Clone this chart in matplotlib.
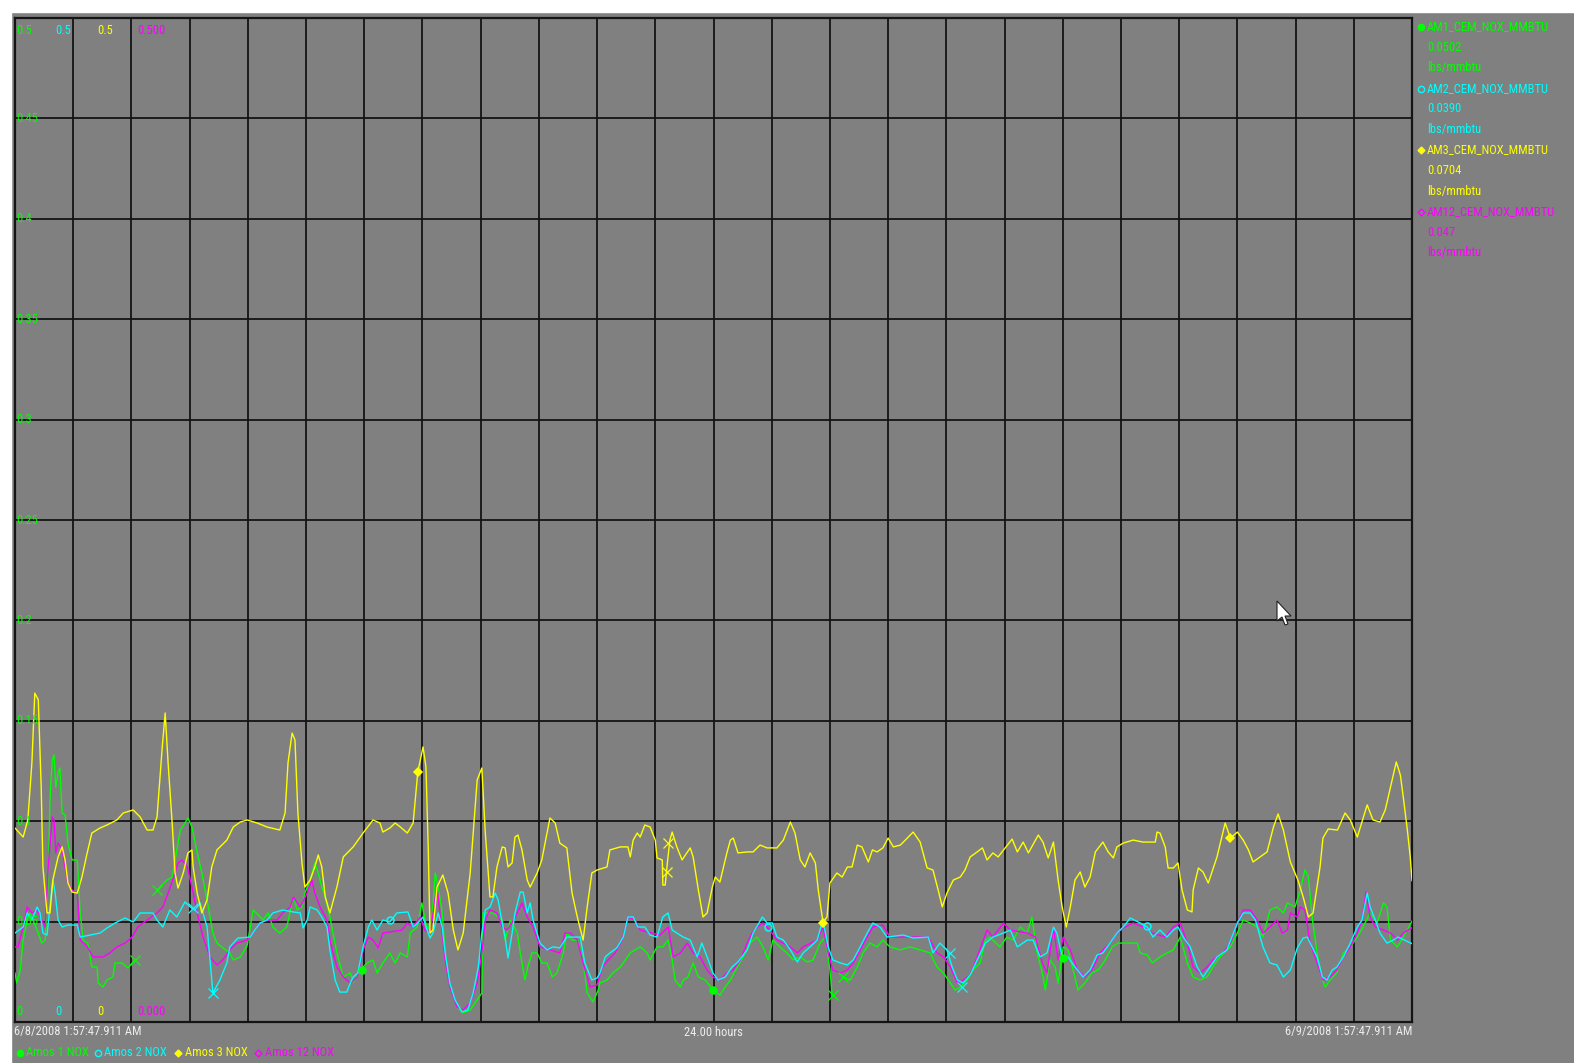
import numpy as np
import matplotlib

matplotlib.use("Agg")
import matplotlib.pyplot as plt
from matplotlib import font_manager as fm
from matplotlib.lines import Line2D
from matplotlib.patches import Polygon, Rectangle
from matplotlib.textpath import TextPath

W, H = 1574, 1063
BG = "#808080"
GRID = "#141414"
GREEN, CYAN, YELLOW, MAGENTA = "#00ff00", "#00ffff", "#ffff00", "#ff00ff"
TIME_COLOR = "#ececec"
nan = float("nan")

# (hours since 6/8/2008 1:57:47 AM, lbs/mmbtu)
AM1_NOX = [
    (0.00, 0.0244), (0.03, 0.0194), (0.09, 0.0259), (0.14, 0.0408), (0.21, 0.0508), (0.26, 0.0543),
    (0.31, 0.0508), (0.40, 0.0443), (0.46, 0.0393), (0.52, 0.0408), (0.57, 0.0707), (0.60, 0.1106),
    (0.64, 0.1305), (0.67, 0.1330), (0.70, 0.1170), (0.74, 0.1240), (0.77, 0.1265), (0.81, 0.1041),
    (0.86, 0.1031), (0.91, 0.0891), (0.98, 0.0807), (1.07, 0.0807), (1.12, 0.0543), (1.17, 0.0408),
    (1.25, 0.0393), (1.32, 0.0274), (1.41, 0.0274), (1.43, 0.0194), (1.51, 0.0174), (1.58, 0.0209),
    (1.68, 0.0224), (1.72, 0.0294), (1.84, 0.0294), (1.94, 0.0269), (2.06, 0.0309), (2.25, nan),
    (2.44, 0.0657), (2.49, 0.0672), (2.61, 0.0707), (2.70, 0.0722), (2.75, 0.0807), (2.84, 0.0956),
    (2.92, 0.0991), (2.97, 0.1016), (3.04, 0.0971), (3.13, 0.0842), (3.21, 0.0742), (3.32, 0.0573),
    (3.40, 0.0443), (3.47, 0.0393), (3.57, 0.0369), (3.69, 0.0344), (3.75, 0.0309), (3.87, 0.0324),
    (3.99, 0.0383), (4.09, 0.0558), (4.18, 0.0533), (4.26, 0.0508), (4.35, 0.0543), (4.43, 0.0473),
    (4.55, 0.0443), (4.67, 0.0473), (4.78, 0.0623), (4.85, 0.0558), (4.93, 0.0573), (4.98, 0.0642),
    (5.07, 0.0707), (5.15, 0.0792), (5.21, 0.0742), (5.27, 0.0672), (5.33, 0.0623), (5.41, 0.0523),
    (5.53, 0.0344), (5.64, 0.0224), (5.76, 0.0244), (5.81, 0.0199), (5.93, 0.0259), (6.05, 0.0294),
    (6.15, 0.0309), (6.22, 0.0244), (6.32, 0.0294), (6.44, 0.0344), (6.53, 0.0294), (6.62, 0.0344),
    (6.74, 0.0324), (6.79, 0.0443), (6.91, 0.0473), (6.99, 0.0593), (7.08, 0.0458), (7.16, 0.0508),
    (7.22, 0.0742), (7.27, 0.0672), (7.34, 0.0543), (7.39, 0.0344), (7.47, 0.0174), (7.59, 0.0075),
    (7.70, 0.0045), (7.82, 0.0060), (7.94, 0.0110), (8.02, 0.0144), (8.04, 0.0543), (8.21, 0.0543),
    (8.37, 0.0508), (8.42, 0.0408), (8.51, 0.0508), (8.63, 0.0443), (8.68, 0.0344), (8.76, 0.0209),
    (8.81, 0.0274), (8.88, 0.0344), (8.97, 0.0344), (9.05, 0.0294), (9.14, 0.0294), (9.23, 0.0224),
    (9.31, 0.0244), (9.42, 0.0344), (9.48, 0.0443), (9.57, 0.0408), (9.67, 0.0408), (9.76, 0.0309),
    (9.83, 0.0144), (9.93, 0.0100), (10.02, 0.0159), (10.05, 0.0194), (10.17, 0.0209), (10.27, 0.0244),
    (10.40, 0.0274), (10.57, 0.0344), (10.74, 0.0374), (10.86, 0.0344), (10.91, 0.0309), (11.03, 0.0374),
    (11.13, 0.0374), (11.22, 0.0408), (11.29, 0.0309), (11.34, 0.0209), (11.43, 0.0174), (11.48, 0.0209),
    (11.56, 0.0224), (11.65, 0.0294), (11.74, 0.0224), (11.86, 0.0209), (11.99, 0.0159), (12.11, 0.0134),
    (12.20, 0.0174), (12.29, 0.0209), (12.41, 0.0274), (12.51, 0.0324), (12.63, 0.0393), (12.75, 0.0423),
    (12.85, 0.0374), (12.94, 0.0309), (13.02, 0.0408), (13.14, 0.0374), (13.26, 0.0344), (13.37, 0.0309),
    (13.49, 0.0324), (13.61, 0.0299), (13.71, 0.0309), (13.83, 0.0393), (13.92, 0.0423), (14.00, 0.0259),
    (14.04, 0.0134), (14.13, nan),
    (14.23, 0.0224), (14.35, 0.0209), (14.47, 0.0274), (14.57, 0.0344), (14.69, 0.0393), (14.81, 0.0374),
    (14.91, 0.0408), (15.03, 0.0374), (15.21, 0.0359), (15.38, 0.0374), (15.55, 0.0359), (15.72, 0.0344),
    (15.84, 0.0274), (15.95, 0.0244), (16.07, 0.0194), (16.15, 0.0159), (16.24, 0.0174), (16.36, 0.0209),
    (16.46, 0.0259), (16.58, 0.0294), (16.67, 0.0408), (16.75, 0.0423), (16.92, 0.0374), (17.04, 0.0423),
    (17.15, 0.0408), (17.27, 0.0473), (17.39, 0.0443), (17.47, 0.0523), (17.56, 0.0344), (17.65, 0.0244),
    (17.70, 0.0159), (17.78, 0.0309), (17.87, 0.0274), (17.92, 0.0194), (18.01, 0.0374), (18.09, 0.0359),
    (18.18, 0.0259), (18.26, 0.0159), (18.38, 0.0194), (18.50, 0.0244), (18.61, 0.0259), (18.73, 0.0309),
    (18.85, 0.0374), (18.95, 0.0393), (19.28, 0.0393), (19.33, 0.0344), (19.45, 0.0334), (19.54, 0.0294),
    (19.67, 0.0324), (19.79, 0.0344), (19.90, 0.0359), (20.02, 0.0423), (20.14, 0.0294), (20.24, 0.0224),
    (20.36, 0.0209), (20.48, 0.0224), (20.58, 0.0274), (20.70, 0.0324), (20.88, 0.0374), (21.00, 0.0443),
    (21.10, 0.0508), (21.22, 0.0493), (21.34, 0.0473), (21.44, 0.0423), (21.56, 0.0558), (21.68, 0.0573),
    (21.79, 0.0543), (21.86, 0.0593), (21.99, 0.0573), (22.08, 0.0657), (22.16, 0.0757), (22.22, 0.0722),
    (22.29, 0.0508), (22.37, 0.0344), (22.46, 0.0209), (22.51, 0.0174), (22.59, 0.0209), (22.71, 0.0244),
    (22.82, 0.0344), (22.94, 0.0374), (23.06, 0.0423), (23.16, 0.0473), (23.28, 0.0543), (23.40, 0.0493),
    (23.51, 0.0593), (23.57, 0.0573), (23.63, 0.0408), (23.75, 0.0374), (23.85, 0.0423), (24.00, 0.0502),
]

AM2_NOX = [
    (0.00, 0.0443), (0.14, 0.0473), (0.21, 0.0543), (0.29, 0.0508), (0.38, 0.0573), (0.43, 0.0543),
    (0.48, 0.0443), (0.55, 0.0433), (0.60, 0.0573), (0.65, 0.0707), (0.69, 0.0642), (0.74, 0.0508),
    (0.81, 0.0473), (0.91, 0.0483), (1.07, 0.0483), (1.12, 0.0423), (1.29, 0.0433), (1.46, 0.0443),
    (1.58, 0.0468), (1.72, 0.0493), (1.89, 0.0518), (2.03, 0.0498), (2.15, 0.0543), (2.37, 0.0543),
    (2.44, 0.0508), (2.54, 0.0473), (2.66, 0.0558), (2.78, 0.0523), (2.92, 0.0598), (3.01, 0.0573),
    (3.09, 0.0558), (3.18, 0.0593), (3.23, 0.0543), (3.30, 0.0473), (3.40, 0.0144), (3.52, 0.0209),
    (3.64, 0.0294), (3.69, 0.0374), (3.83, 0.0418), (4.04, 0.0423), (4.12, 0.0458), (4.21, 0.0493),
    (4.33, 0.0508), (4.43, 0.0543), (4.60, 0.0558), (4.78, 0.0548), (4.90, 0.0543), (4.95, 0.0468),
    (5.02, 0.0508), (5.07, 0.0573), (5.19, 0.0558), (5.27, 0.0523), (5.36, 0.0473), (5.41, 0.0359),
    (5.50, 0.0209), (5.58, 0.0149), (5.70, 0.0149), (5.76, 0.0194), (5.81, 0.0224), (5.89, 0.0244),
    (5.98, 0.0374), (6.07, 0.0473), (6.13, 0.0508), (6.22, 0.0458), (6.32, 0.0508), (6.44, 0.0498),
    (6.56, 0.0543), (6.75, 0.0548), (6.84, 0.0473), (6.92, 0.0493), (7.01, 0.0523), (7.08, 0.0458),
    (7.13, 0.0418), (7.18, 0.0443), (7.27, 0.0543), (7.34, 0.0473), (7.39, 0.0344), (7.47, 0.0194),
    (7.56, 0.0110), (7.68, 0.0050), (7.78, 0.0060), (7.87, 0.0144), (7.96, 0.0274), (8.02, 0.0443),
    (8.08, 0.0558), (8.16, 0.0573), (8.25, 0.0642), (8.30, 0.0608), (8.37, 0.0493), (8.42, 0.0423),
    (8.47, 0.0319), (8.54, 0.0443), (8.59, 0.0543), (8.68, 0.0647), (8.73, 0.0647), (8.80, 0.0543),
    (8.85, 0.0593), (8.90, 0.0508), (9.02, 0.0393), (9.14, 0.0359), (9.24, 0.0374), (9.36, 0.0369),
    (9.48, 0.0423), (9.71, 0.0423), (9.79, 0.0294), (9.91, 0.0209), (10.00, 0.0219), (10.05, 0.0244),
    (10.14, 0.0324), (10.22, 0.0344), (10.34, 0.0369), (10.45, 0.0423), (10.53, 0.0523), (10.62, 0.0523),
    (10.70, 0.0473), (10.82, 0.0473), (10.91, 0.0433), (11.03, 0.0423), (11.13, 0.0523), (11.22, 0.0543),
    (11.29, 0.0458), (11.37, 0.0443), (11.48, 0.0423), (11.60, 0.0408), (11.72, 0.0324), (11.80, 0.0393),
    (11.89, 0.0324), (11.99, 0.0244), (12.08, 0.0209), (12.20, 0.0224), (12.32, 0.0274), (12.42, 0.0299),
    (12.58, 0.0359), (12.68, 0.0443), (12.84, 0.0523), (12.92, 0.0493), (13.01, 0.0493), (13.09, 0.0423),
    (13.20, 0.0408), (13.32, 0.0359), (13.44, 0.0299), (13.54, 0.0344), (13.66, 0.0374), (13.78, 0.0408),
    (13.88, 0.0508), (13.97, 0.0374), (14.05, 0.0309), (14.18, 0.0294), (14.30, 0.0284), (14.40, 0.0309),
    (14.52, 0.0374), (14.64, 0.0443), (14.74, 0.0493), (14.86, 0.0473), (14.98, 0.0423), (15.26, 0.0433),
    (15.43, 0.0418), (15.69, 0.0423), (15.77, 0.0344), (15.89, 0.0393), (16.01, 0.0359), (16.10, 0.0274),
    (16.19, 0.0209), (16.29, 0.0194), (16.41, 0.0234), (16.53, 0.0309), (16.67, 0.0393), (16.80, 0.0423),
    (16.98, 0.0443), (17.10, 0.0458), (17.22, 0.0374), (17.39, 0.0408), (17.49, 0.0408), (17.61, 0.0324),
    (17.73, 0.0344), (17.84, 0.0473), (17.90, 0.0443), (17.99, 0.0324), (18.09, 0.0324), (18.21, 0.0274),
    (18.35, 0.0224), (18.47, 0.0259), (18.59, 0.0334), (18.69, 0.0344), (18.81, 0.0393), (18.93, 0.0443),
    (19.04, 0.0473), (19.16, 0.0518), (19.33, 0.0493), (19.45, 0.0473), (19.55, 0.0423), (19.67, 0.0458),
    (19.79, 0.0423), (19.90, 0.0458), (19.98, 0.0473), (20.07, 0.0423), (20.19, 0.0374), (20.31, 0.0274),
    (20.41, 0.0224), (20.53, 0.0274), (20.65, 0.0324), (20.82, 0.0359), (21.00, 0.0493), (21.10, 0.0543),
    (21.22, 0.0543), (21.31, 0.0508), (21.44, 0.0374), (21.56, 0.0294), (21.68, 0.0284), (21.79, 0.0224),
    (21.91, 0.0259), (22.03, 0.0369), (22.13, 0.0418), (22.20, 0.0423), (22.25, 0.0393), (22.37, 0.0324),
    (22.46, 0.0224), (22.54, 0.0209), (22.63, 0.0259), (22.71, 0.0274), (22.82, 0.0324), (22.94, 0.0393),
    (23.06, 0.0473), (23.14, 0.0508), (23.23, 0.0642), (23.28, 0.0573), (23.37, 0.0508), (23.45, 0.0443),
    (23.57, 0.0393), (23.68, 0.0408), (23.76, 0.0423), (24.00, 0.0390),
]

AM3_NOX = [
    (0.00, 0.0966), (0.14, 0.0921), (0.22, 0.1006), (0.29, 0.1290), (0.34, 0.1638), (0.40, 0.1604),
    (0.45, 0.1170), (0.48, 0.0772), (0.55, 0.0543), (0.60, 0.0543), (0.65, 0.0707), (0.74, 0.0822),
    (0.81, 0.0872), (0.86, 0.0807), (0.91, 0.0692), (0.98, 0.0647), (1.07, 0.0642), (1.15, 0.0722),
    (1.24, 0.0842), (1.32, 0.0941), (1.46, 0.0966), (1.58, 0.0981), (1.75, 0.1006), (1.86, 0.1041),
    (2.03, 0.1056), (2.15, 0.1021), (2.27, 0.0956), (2.37, 0.0956), (2.44, 0.1021), (2.53, 0.1370),
    (2.58, 0.1539), (2.63, 0.1290), (2.70, 0.0991), (2.75, 0.0742), (2.80, 0.0667), (2.89, 0.0742),
    (2.97, 0.0842), (3.04, 0.0857), (3.06, 0.0772), (3.13, 0.0642), (3.21, 0.0543), (3.30, 0.0608),
    (3.38, 0.0772), (3.47, 0.0857), (3.64, 0.0906), (3.75, 0.0971), (3.87, 0.0996), (3.99, 0.1006),
    (4.16, 0.0991), (4.33, 0.0971), (4.55, 0.0956), (4.64, 0.1041), (4.69, 0.1290), (4.76, 0.1439),
    (4.81, 0.1404), (4.86, 0.1041), (4.93, 0.0792), (4.98, 0.0672), (5.07, 0.0707), (5.15, 0.0772),
    (5.21, 0.0832), (5.27, 0.0772), (5.33, 0.0623), (5.41, 0.0543), (5.53, 0.0672), (5.64, 0.0822),
    (5.81, 0.0872), (5.98, 0.0941), (6.15, 0.1006), (6.27, 0.0991), (6.32, 0.0946), (6.44, 0.0966),
    (6.53, 0.0991), (6.62, 0.0971), (6.74, 0.0941), (6.84, 0.0991), (6.92, 0.1245), (7.01, 0.1370),
    (7.06, 0.1270), (7.10, 0.0857), (7.13, 0.0443), (7.18, 0.0458), (7.25, 0.0672), (7.35, 0.0732),
    (7.44, 0.0642), (7.53, 0.0458), (7.61, 0.0359), (7.70, 0.0443), (7.82, 0.0742), (7.94, 0.1205),
    (8.02, 0.1265), (8.08, 0.0941), (8.16, 0.0623), (8.21, 0.0623), (8.28, 0.0772), (8.37, 0.0872),
    (8.42, 0.0867), (8.47, 0.0772), (8.54, 0.0792), (8.59, 0.0921), (8.64, 0.0931), (8.71, 0.0857),
    (8.80, 0.0707), (8.85, 0.0672), (8.97, 0.0742), (9.05, 0.0807), (9.19, 0.1016), (9.28, 0.0991),
    (9.36, 0.0891), (9.48, 0.0867), (9.57, 0.0642), (9.66, 0.0523), (9.76, 0.0408), (9.83, 0.0573),
    (9.91, 0.0742), (10.00, 0.0757), (10.17, 0.0772), (10.22, 0.0857), (10.40, 0.0872), (10.53, 0.0872),
    (10.57, 0.0822), (10.62, 0.0906), (10.69, 0.0941), (10.74, 0.0921), (10.82, 0.0981), (10.91, 0.0971),
    (11.00, 0.0906), (11.03, 0.0817), (11.12, 0.0807), (11.13, 0.0682), (11.17, 0.0682), (11.20, 0.0772),
    (11.25, 0.0906), (11.29, 0.0946), (11.37, 0.0872), (11.46, 0.0807), (11.60, 0.0867), (11.65, 0.0822),
    (11.74, 0.0657), (11.82, 0.0523), (11.89, 0.0543), (11.98, 0.0672), (12.03, 0.0722), (12.11, 0.0697),
    (12.23, 0.0842), (12.29, 0.0906), (12.34, 0.0916), (12.42, 0.0842), (12.58, 0.0847), (12.68, 0.0847),
    (12.80, 0.0881), (12.92, 0.0867), (13.09, 0.0867), (13.20, 0.0906), (13.32, 0.0996), (13.40, 0.0941),
    (13.49, 0.0807), (13.57, 0.0772), (13.66, 0.0842), (13.75, 0.0792), (13.80, 0.0657), (13.88, 0.0498),
    (13.95, 0.0523), (14.00, 0.0692), (14.12, 0.0742), (14.21, 0.0722), (14.30, 0.0772), (14.38, 0.0772),
    (14.47, 0.0881), (14.55, 0.0872), (14.66, 0.0797), (14.73, 0.0857), (14.81, 0.0847), (14.91, 0.0867),
    (15.00, 0.0916), (15.09, 0.0872), (15.21, 0.0881), (15.33, 0.0916), (15.43, 0.0946), (15.55, 0.0896),
    (15.67, 0.0767), (15.77, 0.0757), (15.86, 0.0657), (15.93, 0.0573), (16.01, 0.0642), (16.12, 0.0707),
    (16.24, 0.0722), (16.32, 0.0757), (16.41, 0.0822), (16.53, 0.0847), (16.62, 0.0867), (16.70, 0.0807),
    (16.80, 0.0842), (16.89, 0.0822), (17.13, 0.0911), (17.22, 0.0847), (17.32, 0.0896), (17.41, 0.0842),
    (17.58, 0.0931), (17.66, 0.0896), (17.75, 0.0817), (17.84, 0.0896), (17.92, 0.0707), (17.99, 0.0573),
    (18.06, 0.0473), (18.13, 0.0573), (18.21, 0.0707), (18.30, 0.0747), (18.38, 0.0672), (18.47, 0.0722),
    (18.56, 0.0847), (18.69, 0.0896), (18.78, 0.0847), (18.87, 0.0817), (18.93, 0.0872), (19.04, 0.0891),
    (19.21, 0.0906), (19.38, 0.0896), (19.59, 0.0896), (19.62, 0.0946), (19.67, 0.0941), (19.76, 0.0872),
    (19.81, 0.0767), (19.90, 0.0767), (19.98, 0.0792), (20.05, 0.0657), (20.14, 0.0558), (20.22, 0.0548),
    (20.24, 0.0657), (20.33, 0.0767), (20.41, 0.0747), (20.50, 0.0692), (20.65, 0.0822), (20.79, 0.0991),
    (20.88, 0.0916), (21.00, 0.0946), (21.10, 0.0906), (21.19, 0.0857), (21.27, 0.0797), (21.39, 0.0822),
    (21.51, 0.0847), (21.62, 0.0971), (21.70, 0.1036), (21.79, 0.0956), (21.91, 0.0797), (22.04, 0.0707),
    (22.13, 0.0623), (22.22, 0.0523), (22.30, 0.0543), (22.42, 0.0772), (22.47, 0.0916), (22.56, 0.0961),
    (22.72, 0.0956), (22.85, 0.1041), (22.94, 0.1006), (23.06, 0.0921), (23.14, 0.0996), (23.23, 0.1081),
    (23.33, 0.1006), (23.45, 0.0996), (23.54, 0.1056), (23.63, 0.1170), (23.73, 0.1295), (23.80, 0.1230),
    (23.85, 0.1120), (23.92, 0.0956), (23.97, 0.0822), (24.00, 0.0704),
]

AM12_NOX = [
    (0.00, 0.0374), (0.05, 0.0374), (0.14, 0.0473), (0.21, 0.0573), (0.29, 0.0543), (0.38, 0.0558),
    (0.46, 0.0508), (0.52, 0.0473), (0.57, 0.0772), (0.64, 0.1021), (0.67, 0.1006), (0.70, 0.0842),
    (0.74, 0.0891), (0.81, 0.0857), (0.86, 0.0772), (0.91, 0.0692), (0.98, 0.0657), (1.07, 0.0642),
    (1.12, 0.0408), (1.24, 0.0374), (1.34, 0.0324), (1.51, 0.0324), (1.63, 0.0344), (1.75, 0.0374),
    (1.89, 0.0393), (2.01, 0.0423), (2.11, 0.0473), (2.27, 0.0508), (2.44, 0.0543), (2.54, 0.0573),
    (2.63, 0.0642), (2.71, 0.0707), (2.80, 0.0792), (2.87, 0.0807), (2.96, 0.0772), (3.04, 0.0672),
    (3.13, 0.0543), (3.23, 0.0423), (3.35, 0.0324), (3.47, 0.0284), (3.57, 0.0309), (3.69, 0.0359),
    (3.81, 0.0393), (3.99, 0.0408), (4.09, 0.0443), (4.21, 0.0493), (4.33, 0.0508), (4.50, 0.0508),
    (4.60, 0.0543), (4.73, 0.0573), (4.78, 0.0623), (4.90, 0.0573), (5.02, 0.0642), (5.10, 0.0707),
    (5.15, 0.0642), (5.24, 0.0573), (5.36, 0.0508), (5.41, 0.0408), (5.53, 0.0274), (5.64, 0.0224),
    (5.76, 0.0194), (5.88, 0.0224), (5.98, 0.0359), (6.07, 0.0423), (6.15, 0.0408), (6.24, 0.0369),
    (6.32, 0.0443), (6.65, 0.0458), (6.74, 0.0493), (6.84, 0.0473), (6.96, 0.0523), (7.04, 0.0458),
    (7.13, 0.0443), (7.25, 0.0672), (7.30, 0.0543), (7.39, 0.0309), (7.47, 0.0174), (7.59, 0.0075),
    (7.70, 0.0060), (7.82, 0.0095), (7.94, 0.0194), (8.02, 0.0344), (8.08, 0.0508), (8.16, 0.0558),
    (8.28, 0.0543), (8.37, 0.0473), (8.45, 0.0458), (8.54, 0.0493), (8.63, 0.0543), (8.71, 0.0593),
    (8.80, 0.0523), (8.90, 0.0473), (9.02, 0.0374), (9.36, 0.0344), (9.45, 0.0443), (9.54, 0.0443),
    (9.66, 0.0408), (9.76, 0.0294), (9.88, 0.0174), (10.00, 0.0184), (10.09, 0.0274), (10.19, 0.0309),
    (10.31, 0.0344), (10.43, 0.0408), (10.53, 0.0523), (10.65, 0.0508), (10.74, 0.0458), (11.08, 0.0433),
    (11.22, 0.0473), (11.31, 0.0324), (11.43, 0.0344), (11.55, 0.0393), (11.65, 0.0344), (11.77, 0.0324),
    (11.89, 0.0259), (11.99, 0.0224), (12.11, 0.0209), (12.23, 0.0244), (12.34, 0.0259), (12.46, 0.0309),
    (12.58, 0.0393), (12.66, 0.0443), (12.75, 0.0473), (12.85, 0.0493), (12.97, 0.0458), (13.09, 0.0408),
    (13.32, 0.0374), (13.44, 0.0344), (13.54, 0.0374), (13.78, 0.0408), (13.88, 0.0473), (13.97, 0.0344),
    (14.05, 0.0259), (14.18, 0.0244), (14.30, 0.0259), (14.40, 0.0294), (14.52, 0.0359), (14.64, 0.0423),
    (14.74, 0.0473), (14.91, 0.0483), (15.03, 0.0423), (15.69, 0.0423), (15.84, 0.0344), (15.95, 0.0324),
    (16.07, 0.0274), (16.19, 0.0194), (16.29, 0.0209), (16.41, 0.0234), (16.53, 0.0324), (16.70, 0.0458),
    (16.80, 0.0423), (16.98, 0.0493), (17.10, 0.0458), (17.39, 0.0443), (17.53, 0.0423), (17.65, 0.0294),
    (17.73, 0.0244), (17.84, 0.0473), (17.92, 0.0309), (18.01, 0.0423), (18.13, 0.0359), (18.25, 0.0259),
    (18.38, 0.0224), (18.50, 0.0259), (18.64, 0.0344), (18.81, 0.0393), (18.93, 0.0443), (19.04, 0.0468),
    (19.21, 0.0493), (19.38, 0.0473), (19.54, 0.0443), (19.76, 0.0423), (19.90, 0.0473), (20.02, 0.0493),
    (20.14, 0.0393), (20.24, 0.0274), (20.36, 0.0244), (20.48, 0.0274), (20.58, 0.0309), (20.75, 0.0344),
    (20.88, 0.0393), (21.00, 0.0493), (21.10, 0.0558), (21.22, 0.0558), (21.34, 0.0508), (21.44, 0.0443),
    (21.56, 0.0473), (21.68, 0.0508), (21.77, 0.0443), (21.86, 0.0458), (21.91, 0.0543), (22.03, 0.0523),
    (22.08, 0.0573), (22.16, 0.0558), (22.25, 0.0393), (22.37, 0.0294), (22.47, 0.0209), (22.59, 0.0224),
    (22.71, 0.0259), (22.82, 0.0324), (22.94, 0.0374), (23.06, 0.0443), (23.14, 0.0508), (23.21, 0.0647),
    (23.28, 0.0523), (23.37, 0.0473), (23.51, 0.0458), (23.63, 0.0443), (23.75, 0.0408), (23.85, 0.0443),
    (24.00, 0.0470),
]

# point markers the trend display drops on each trace
AM1_DOTS = [(5.96, 0.0259), (11.99, 0.0159), (18.01, 0.0319)]
AM1_GAPS = [(2.06, 0.0309), (2.44, 0.0657), (14.05, 0.0134), (14.23, 0.0224)]
AM2_DOTS = [(6.44, 0.0508), (12.94, 0.0473), (19.45, 0.0478)]
AM2_GAPS = [(3.06, 0.0568), (3.40, 0.0144), (16.07, 0.0344), (16.27, 0.0174)]
AM3_DOTS = [(6.92, 0.1245), (13.88, 0.0493), (20.88, 0.0916)]
AM3_GAPS = [(11.22, 0.0891), (11.20, 0.0747)]

Y_GRID = [0.0, 0.05, 0.1, 0.15, 0.2, 0.25, 0.3, 0.35, 0.4, 0.45, 0.5]
TAG_NAMES = ["AM1_CEM_NOX_MMBTU", "AM2_CEM_NOX_MMBTU", "AM3_CEM_NOX_MMBTU", "AM12_CEM_NOX_MMBTU"]
TAG_VALUES = ["0.0502", "0.0390", "0.0704", "0.047"]
TAG_UNITS = "lbs/mmbtu"
TRACE_NAMES = ["Amos 1 NOX", "Amos 2 NOX", "Amos 3 NOX", "Amos 12 NOX"]
SCALE_TOP = ["0.5", "0.5", "0.5", "0.500"]
SCALE_BOTTOM = ["0", "0", "0", "0.000"]
START_TIME = "6/8/2008 1:57:47.911 AM"
END_TIME = "6/9/2008 1:57:47.911 AM"
SPAN = "24.00 hours"

COLORS = [GREEN, CYAN, YELLOW, MAGENTA]
SYMBOLS = [("o", True), ("o", False), ("D", True), ("D", False)]


def pick_font():
    # the trend display uses a narrow sans; take the closest installed one
    ttf = fm.fontManager.ttflist

    def plain(f):
        low = f.fname.lower()
        return f.style == "normal" and f.weight in (400, "normal", "regular", "book") \
            and "bold" not in low and "italic" not in low and "light" not in low

    for name in ["Liberation Sans Narrow", "Arial Narrow", "Roboto Condensed",
                 "DejaVu Sans Condensed", "Noto Sans Condensed", "Open Sans Condensed"]:
        for f in ttf:
            if f.name == name and plain(f):
                return f.fname
    for f in ttf:
        st = str(f.stretch).lower()
        if plain(f) and ("narrow" in f.name.lower() or "condensed" in f.name.lower()
                         or st in ("condensed", "semi-condensed")) \
                and "extra" not in f.fname.lower() and "ultra" not in f.fname.lower():
            return f.fname
    for f in ttf:
        if f.name == "Liberation Sans" and plain(f):
            return f.fname
    return None


fpath = pick_font()
base = fm.FontProperties(fname=fpath) if fpath else fm.FontProperties(family="DejaVu Sans")
# size so the time caption spans ~126 px like the reference, capped by glyph height
w100 = TextPath((0, 0), START_TIME, size=100, prop=base).get_extents().width
FS = min(10.0, 126 * 72 / 100 / (w100 / 100))
FONT = base.copy()
FONT.set_size(FS)


def fx(x):
    return x / W


def fy(y):
    return 1 - y / H


fig = plt.figure(figsize=(W / 100, H / 100), dpi=100, facecolor=BG)
fig.patches.append(Rectangle((0, fy(12)), 1, 12 / H, transform=fig.transFigure,
                             color="white", zorder=0))
fig.patches.append(Rectangle((0, 0), fx(11), 1, transform=fig.transFigure,
                             color="white", zorder=0))

ax = fig.add_axes([fx(15), 41 / H, 1397 / W, 1004 / H])
ax.set_facecolor(BG)
ax.set_xlim(0, 24)
ax.set_ylim(0, 0.5)
ax.set_xticks(np.arange(0, 25))
ax.set_yticks(Y_GRID)
ax.grid(True, color=GRID, lw=1.3)
ax.set_axisbelow(True)
ax.tick_params(length=0, labelbottom=False, labelleft=False)
for sp in ax.spines.values():
    sp.set_color(GRID)
    sp.set_linewidth(1.6)

for data, color in [(AM1_NOX, GREEN), (AM12_NOX, MAGENTA), (AM2_NOX, CYAN), (AM3_NOX, YELLOW)]:
    h, v = np.array(data).T
    ax.plot(h, v, color=color, lw=1.0, zorder=3)

for pts, color, mk, filled in [(AM1_DOTS, GREEN, "o", True), (AM2_DOTS, CYAN, "o", False),
                               (AM3_DOTS, YELLOW, "D", True)]:
    h, v = np.array(pts).T
    ax.plot(h, v, ls="none", marker=mk, ms=5 if mk == "o" else 4, mew=1.1, color=color,
            mfc=color if filled else "none", zorder=4)
for pts, color in [(AM1_GAPS, GREEN), (AM2_GAPS, CYAN), (AM3_GAPS, YELLOW)]:
    h, v = np.array(pts).T
    ax.plot(h, v, ls="none", marker="x", ms=7, mew=0.9, color=color, zorder=4)

# scale labels drawn inside the plot; the end labels sit just inside the frame
ytr = ax.get_yaxis_transform()
for val in Y_GRID[1:-1]:
    ax.text((16 - 15) / 1397, val, f"{val:g}", transform=ytr, color=GREEN,
            fontproperties=FONT, va="center", ha="left", zorder=5)
for i, (top, bot) in enumerate(zip(SCALE_TOP, SCALE_BOTTOM)):
    xpos = ([16, 55, 97, 137][i] - 15) / 1397
    ax.text(xpos, 0.494, top, transform=ytr, color=COLORS[i], fontproperties=FONT,
            va="center", ha="left", zorder=5)
    ax.text(xpos, 0.005, bot, transform=ytr, color=COLORS[i], fontproperties=FONT,
            va="center", ha="left", zorder=5)

# time axis captions
fig.text(fx(14), fy(1032), START_TIME, color=TIME_COLOR, fontproperties=FONT,
         ha="left", va="center")
fig.text(fx(713), fy(1032), SPAN, color=TIME_COLOR, fontproperties=FONT,
         ha="center", va="center")
fig.text(fx(1412), fy(1032), END_TIME, color=TIME_COLOR, fontproperties=FONT,
         ha="right", va="center")

# tag panel on the right
for i in range(4):
    mk, filled = SYMBOLS[i]
    y0 = 27 + 20.5 * 3 * i
    fig.add_artist(Line2D([fx(1421)], [fy(y0)], marker=mk, ms=4.5 if mk == "o" else 3.5,
                          color=COLORS[i], mfc=COLORS[i] if filled else "none", mew=1.0,
                          ls="none", transform=fig.transFigure))
    for j, txt in enumerate([TAG_NAMES[i], TAG_VALUES[i], TAG_UNITS]):
        fig.text(fx(1427), fy(y0 + 20.5 * j), txt, color=COLORS[i], fontproperties=FONT,
                 ha="left", va="center")

# trace legend along the bottom
for i, (sx, tx) in enumerate(zip([20, 98, 178, 258], [26, 104, 185, 265])):
    mk, filled = SYMBOLS[i]
    fig.add_artist(Line2D([fx(sx)], [fy(1053)], marker=mk, ms=4.5 if mk == "o" else 3.5,
                          color=COLORS[i], mfc=COLORS[i] if filled else "none", mew=1.0,
                          ls="none", transform=fig.transFigure))
    fig.text(fx(tx), fy(1053), TRACE_NAMES[i], color=COLORS[i], fontproperties=FONT,
             ha="left", va="center")

# mouse pointer captured in the screenshot
tip_x, tip_y = 1277, 601
arrow = [(0, 0), (0, 20), (5, 16), (8, 24), (11, 23), (8, 15), (14, 15)]
fig.patches.append(Polygon([(fx(tip_x + dx), fy(tip_y + dy)) for dx, dy in arrow], closed=True,
                           transform=fig.transFigure, facecolor="white", edgecolor="#202020",
                           lw=0.8, zorder=6))

fig.savefig("out.png", dpi=100, facecolor=BG)
